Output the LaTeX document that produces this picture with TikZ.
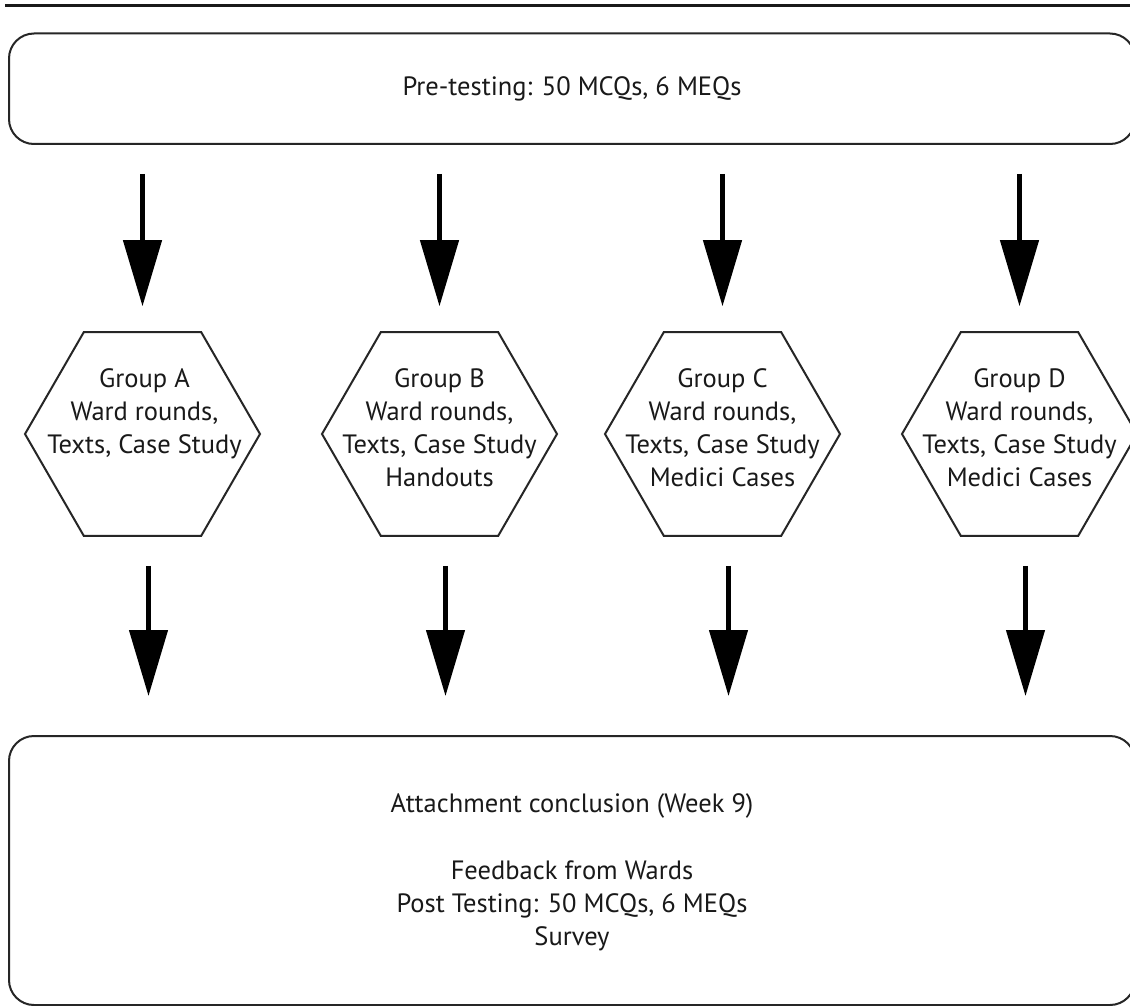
\documentclass[tikz,border=0pt]{standalone}
\usepackage{fontspec}
\setmainfont{PT Sans}
\usetikzlibrary{arrows.meta,shapes.geometric,calc}

\begin{document}
\begin{tikzpicture}[x=1pt,y=-1pt,
  panel/.style={draw=black!85, line width=2pt, rounded corners=25pt,
    minimum width=1126pt, inner sep=0pt},
  hexbox/.style={draw=black!85, line width=2pt, regular polygon,
    regular polygon sides=6, minimum size=235pt, inner sep=0pt},
  lbl/.style={font=\fontsize{26.5}{33}\selectfont, text=black!90,
    align=center, inner sep=0pt},
  flow/.style={line width=4.5pt, draw=black,
    -{Triangle[length=66pt, width=38pt]}}
]
% page frame
\path[use as bounding box, clip] (0,0) rectangle (1130,1006);
\fill[white] (0,0) rectangle (1130,1006);

% rule across the top
\draw[line width=3pt, black!90] (5,6) -- (1130,6);

% first stage
\node[panel, lbl, minimum height=110.5pt] (pre) at (572,88.75)
  {Pre-testing: 50 MCQs, 6 MEQs};

% the four groups
\node[hexbox] (ga) at (142.5,434) {};
\node[hexbox] (gb) at (439.5,434) {};
\node[hexbox] (gc) at (722.5,434) {};
\node[hexbox] (gd) at (1019.5,434) {};

\node[lbl, anchor=north] (gatext) at (144.5,368)
  {Group A\\Ward rounds,\\Texts, Case Study};
\node[lbl, anchor=north] (gbtext) at (439.5,368)
  {Group B\\Ward rounds,\\Texts, Case Study\\Handouts};
\node[lbl, anchor=north] (gctext) at (722.5,368)
  {Group C\\Ward rounds,\\Texts, Case Study\\Medici Cases};
\node[lbl, anchor=north] (gdtext) at (1019.5,368)
  {Group D\\Ward rounds,\\Texts, Case Study\\Medici Cases};

% final stage
\node[panel, minimum height=269pt] (post) at (572,870.5) {};
\node[lbl, anchor=north] (posttext) at (572,793.5)
  {Attachment conclusion (Week 9)\\[34pt]Feedback from Wards\\
   Post Testing: 50 MCQs, 6 MEQs\\Survey};

% arrows into the groups
\foreach \g in {ga,gb,gc,gd}
  \draw[flow] ($(pre.south -| \g.center)+(0,29)$) -- ($(\g.north)+(0,-25)$);

% arrows out of the groups
\foreach \g in {ga,gb,gc,gd}
  \draw[flow] ($(\g.south)+(6,29)$) -- ($(post.north -| \g.center)+(6,-39)$);
\end{tikzpicture}
\end{document}
